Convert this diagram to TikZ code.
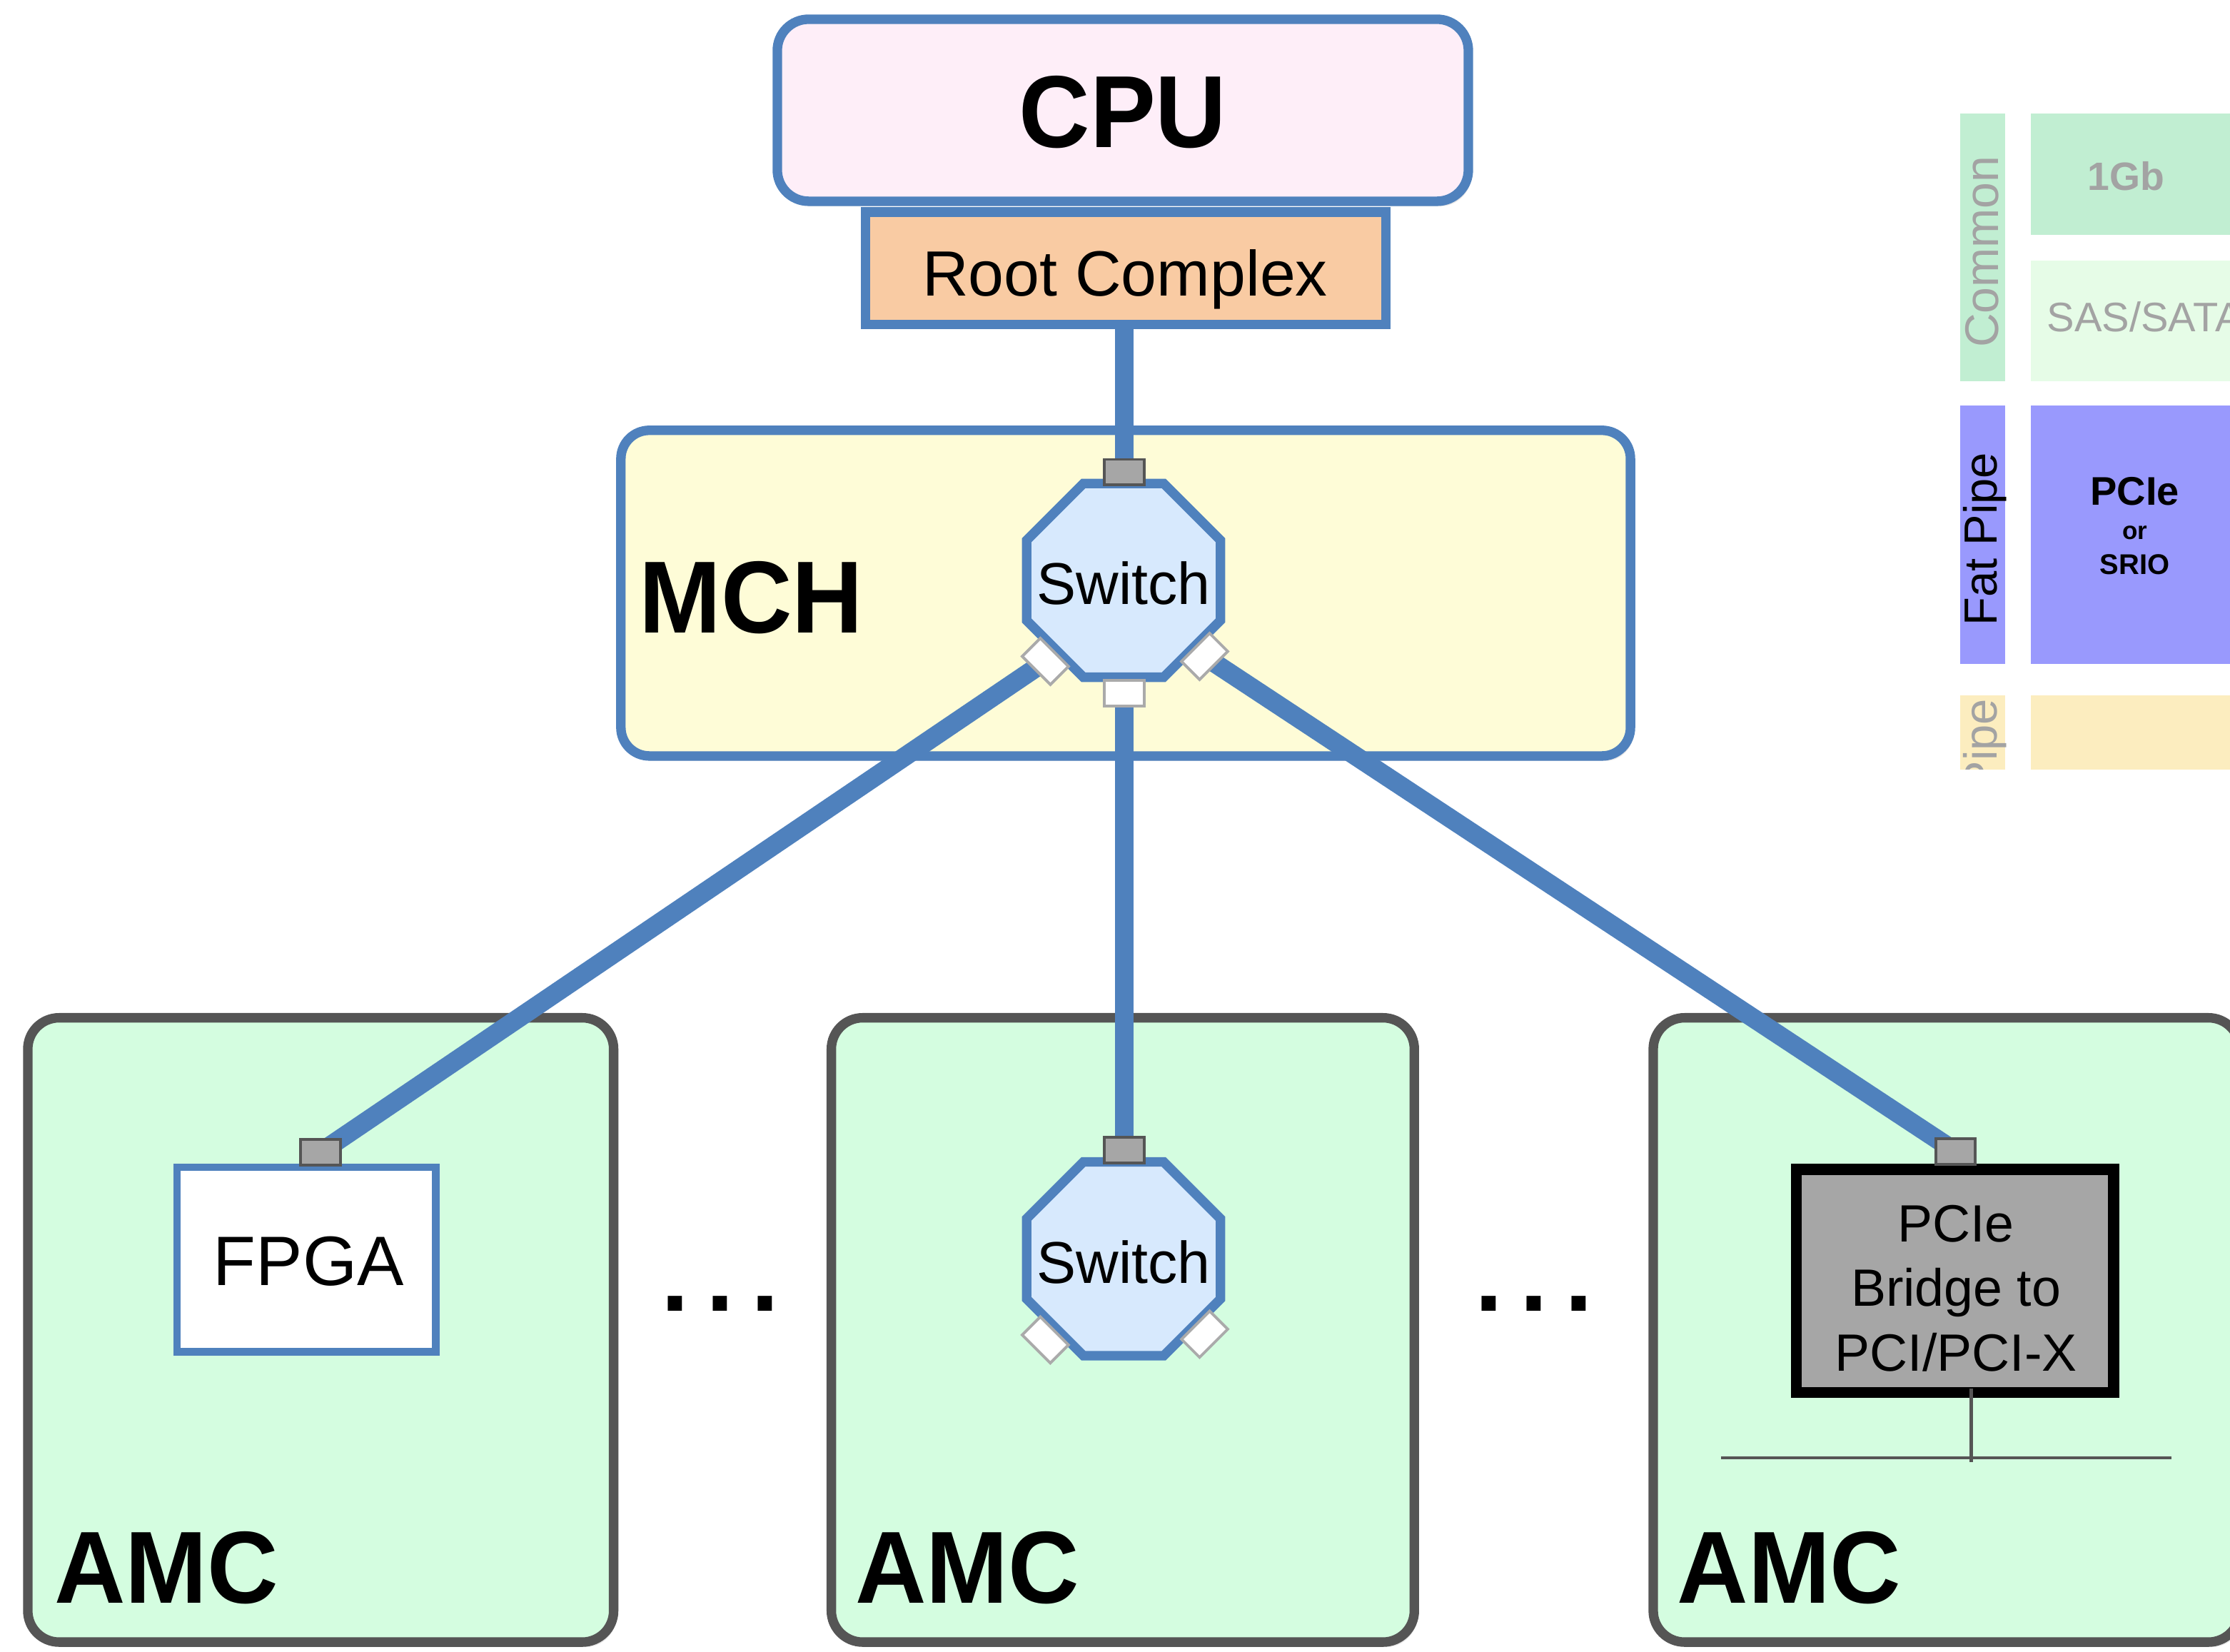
\documentclass[tikz,border=0pt]{standalone}
\usepackage{fontspec}
\setmainfont{Liberation Sans}
\newfontfamily\condfont{Liberation Sans}[FakeStretch=0.96]
\usetikzlibrary{shapes.geometric,shadows}
\pgfdeclarelayer{back}
\pgfdeclarelayer{mid}
\pgfsetlayers{back,mid,main}
\definecolor{bl}{HTML}{4F81BD}
\definecolor{cpufill}{HTML}{FEEEF8}
\definecolor{rcfill}{HTML}{F9CBA3}
\definecolor{mchfill}{HTML}{FEFCD7}
\definecolor{swfill}{HTML}{D7E9FD}
\definecolor{amcfill}{HTML}{D4FDE0}
\definecolor{dk}{HTML}{555555}
\definecolor{portgray}{HTML}{A6A6A6}
\definecolor{portline}{HTML}{AAAAAA}
\definecolor{comgreen}{HTML}{C1EED2}
\definecolor{sasgreen}{HTML}{E6FCE7}
\definecolor{fatblue}{HTML}{9999FD}
\definecolor{pipeyellow}{HTML}{FCEDBF}
\definecolor{fadetext}{HTML}{A3A3A3}
\newcommand\myfs[1]{\fontsize{#1}{#1}\selectfont}
\begin{document}
\begin{tikzpicture}[x=0.02cm,y=0.02cm,
  shd/.style={drop shadow={opacity=0.2, shadow xshift=1.2pt, shadow yshift=-2pt}},
  bluebox/.style={rectangle, draw=bl, line width=3.8pt, inner sep=0},
  amc/.style={rectangle, rounded corners=0.44cm, fill=amcfill, draw=dk, line width=3.8pt, minimum height=8.78cm, inner sep=0, shd},
  swbox/.style={regular polygon, regular polygon sides=8, minimum size=2.95cm, inner sep=0, fill=swfill, draw=bl, line width=3.8pt},
  port/.style={rectangle, minimum width=0.56cm, minimum height=0.36cm, inner sep=0, line width=1.1pt},
  inport/.style={port, fill=portgray, draw=dk},
  outport/.style={port, fill=white, draw=portline},
  link/.style={draw=bl, line width=7.6pt},
  bus/.style={draw=dk, line width=1.2pt},
  txt/.style={inner sep=0, text=black},
  bigbold/.style={txt, font=\condfont\bfseries\myfs{41}},
  swtxt/.style={txt, anchor=base, font=\myfs{23.6}},
  panel/.style={rectangle, inner sep=0, draw=none}
]
\useasboundingbox (0,0) rectangle (1568,-1161);

\begin{pgfonlayer}{back}
  % CPU and root complex
  \node[bluebox, fill=rcfill, minimum width=7.32cm, minimum height=1.58cm, shd] (rc) at (791.5,-188.5) {};
  \node[bluebox, fill=cpufill, rounded corners=0.44cm, minimum width=9.72cm, minimum height=2.56cm, shd] (cpu) at (789.5,-77.5) {};
  \node[bigbold, anchor=base] (cputxt) at (789.5,-103.7) {CPU};
  \node[txt, anchor=base, font=\myfs{25.6}] (rctxt) at (791,-208) {Root Complex};
  % MCH
  \node[bluebox, fill=mchfill, rounded corners=0.4cm, minimum width=14.2cm, minimum height=4.58cm, shd] (mch) at (791.5,-417) {};
  \node[bigbold, anchor=base west] (mchtxt) at (449,-445) {MCH};
  % AMCs
  \node[amc, minimum width=8.24cm] (amc1) at (225.5,-935) {};
  \node[amc, minimum width=8.2cm] (amc2) at (789.5,-935) {};
  \node[amc, minimum width=8.25cm] (amc3) at (1368.65,-935) {};
  \node[bigbold, anchor=base west] (amctxt1) at (38,-1127) {AMC};
  \node[bigbold, anchor=base west] (amctxt2) at (601,-1127) {AMC};
  \node[bigbold, anchor=base west] (amctxt3) at (1179,-1127) {AMC};
  % dots
  \node[txt, anchor=base, font=\bfseries\myfs{40}] (dots1) at (506.5,-922) {.\hspace{6.8pt}.\hspace{6.8pt}.};
  \node[txt, anchor=base, font=\bfseries\myfs{40}] (dots2) at (1078.5,-922) {.\hspace{6.8pt}.\hspace{6.8pt}.};
  % right panel
  \node[panel, fill=comgreen, minimum width=0.64cm, minimum height=3.76cm] (comcol) at (1394,-174) {};
  \node[txt, rotate=90, anchor=base, text=fadetext, font=\myfs{18.9}] (comtxt) at (1405,-177) {Common};
  \node[panel, fill=comgreen, minimum width=2.94cm, minimum height=1.7cm] (gb) at (1501.5,-122.5) {};
  \node[txt, text=fadetext, font=\bfseries\myfs{15.8}] (gbtxt) at (1495,-124) {1Gb};
  \node[panel, fill=sasgreen, minimum width=2.94cm, minimum height=1.7cm] (sas) at (1501.5,-225.5) {};
  \node[txt, anchor=base west, text=fadetext, font=\myfs{16.5}] (sastxt) at (1439,-233) {SAS/SATA};
  \node[panel, fill=fatblue, minimum width=0.64cm, minimum height=3.64cm] (fatcol) at (1394,-376) {};
  \node[txt, rotate=90, anchor=base, font=\myfs{18.6}] (fattxt) at (1404,-379) {Fat Pipe};
  \node[panel, fill=fatblue, minimum width=2.94cm, minimum height=3.64cm] (pcie) at (1501.5,-376) {};
  \node[txt, anchor=base, font=\bfseries\myfs{16}] (pcietxt) at (1501,-355) {PCIe};
  \node[txt, anchor=base, font=\bfseries\myfs{10}] (ortxt) at (1501,-379) {or};
  \node[txt, anchor=base, font=\bfseries\myfs{11.4}] (sriotxt) at (1501,-404) {SRIO};
  \node[panel, fill=pipeyellow, minimum width=0.64cm, minimum height=1.04cm] (pipecol) at (1394,-515) {};
  \node[panel, fill=pipeyellow, minimum width=2.94cm, minimum height=1.04cm] (pipebox) at (1501.5,-515) {};
  \begin{scope}
    \clip (1370,-489) rectangle (1420,-541);
    \node[txt, rotate=90, anchor=base east, text=fadetext, font=\myfs{18.6}] (pipetxt) at (1404,-491) {Pipe};
  \end{scope}
\end{pgfonlayer}

% components
\node[bluebox, fill=white, line width=3pt, minimum width=3.64cm, minimum height=2.6cm] (fpga) at (215.5,-885.5) {};
\node[txt, anchor=base, font=\myfs{28}] (fpgatxt) at (217,-903.8) {FPGA};

\node[rectangle, fill=portgray, draw=black, line width=4.5pt, minimum width=4.46cm, minimum height=3.14cm, inner sep=0] (bridge) at (1374.5,-900.5) {};
\node[txt, anchor=base, font=\myfs{21}] (brtxt1) at (1375.3,-873) {PCIe};
\node[txt, anchor=base, font=\myfs{21}] (brtxt2) at (1375.3,-918.2) {Bridge to};
\node[txt, anchor=base, font=\myfs{21}] (brtxt3) at (1375.3,-963.7) {PCI/PCI-X};

\node[swbox] (sw1) at (790,-408) {};
\node[swtxt] (sw1txt) at (790,-425) {Switch};
\node[swbox] (sw2) at (790,-885) {};
\node[swtxt] (sw2txt) at (790,-902) {Switch};

% ports
\node[inport] (p1t) at (790.5,-332) {};
\node[outport] (p1b) at (790.5,-487.5) {};
\node[outport, rotate=-45] (p1l) at (735,-465) {};
\node[outport, rotate=45] (p1r) at (847,-461.5) {};
\node[inport] (p2t) at (790.5,-808.5) {};
\node[outport, rotate=-45] (p2l) at (735,-942) {};
\node[outport, rotate=45] (p2r) at (847,-938) {};
\node[inport] (pf) at (225.5,-810) {};
\node[inport] (pb) at (1375,-809.5) {};

% PCI bus
\coordinate (busL) at (1210,-1025);
\coordinate (busR) at (1527,-1025);
\coordinate (busT) at (1386,-976);
\coordinate (busB) at (1386,-1028);
\draw[bus] (busL) -- (busR);
\draw[bus] (busT) -- (busB);

% links
\begin{pgfonlayer}{mid}
  \draw[link] (rc.south -| p1t) -- (p1t.center);
  \draw[link] (p1l.center) -- (pf.center);
  \draw[link] (p1b.center) -- (p2t.center);
  \draw[link] (p1r.center) -- (pb.center);
\end{pgfonlayer}
\end{tikzpicture}
\end{document}
